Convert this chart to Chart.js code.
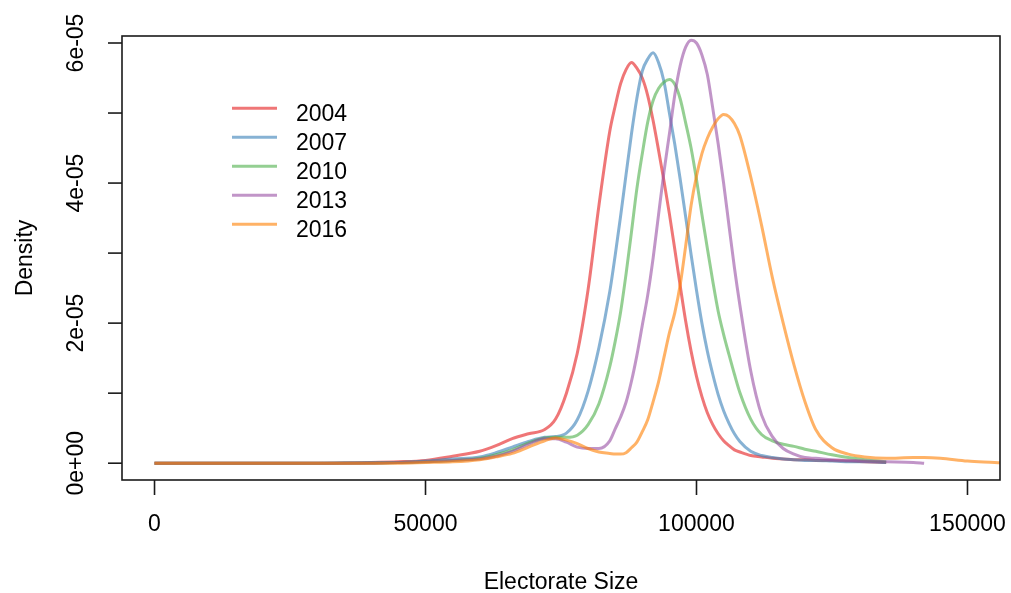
<!DOCTYPE html>
<html>
<head>
<meta charset="utf-8">
<script src="https://cdn.jsdelivr.net/npm/chart.js@4/dist/chart.umd.min.js"></script>
<style>
  html, body { margin: 0; padding: 0; background: #ffffff; }
  canvas { display: block; }
</style>
</head>
<body>
<canvas id="density" width="1011" height="593"></canvas>
<script>
// Electorate size at which each density estimate is sampled
const electorate = [0, 10000, 20000, 30000, 40000, 45000, 50000, 55000, 60000,
  63000, 66000, 69000, 72000, 74000, 76000, 78000, 80000, 82000,
  84000, 85000, 86000, 87000, 88000, 89000, 90000, 91000, 92000, 93000, 94000, 95000,
  96000, 97000, 98000, 99000, 100000, 101000, 102000, 103000, 104000, 105000, 106000,
  107000, 108000,
  110000, 112000, 114000, 116000, 118000, 120000, 122000, 125000, 128000, 131000,
  135000, 140000, 142000, 145000, 150000, 155000, 156000];

const years = ['2004', '2007', '2010', '2013', '2016'];

// Kernel density of electorate size, in units of 1e-5
const d2004 = [0, 0, 0, 0, 0.01, 0.02, 0.04, 0.10, 0.17,
  0.25, 0.35, 0.42, 0.48, 0.63, 1.00, 1.57, 2.48, 3.68,
  4.74, 5.10, 5.42, 5.62, 5.72, 5.64, 5.50, 5.25, 4.89, 4.47, 4.03, 3.56,
  3.05, 2.53, 2.03, 1.60, 1.24, 0.95, 0.72, 0.55, 0.42, 0.32, 0.25,
  0.19, 0.16,
  0.11, 0.09, 0.07, 0.06, 0.05, 0.05, 0.04, 0.04, 0.03, 0.02,
  0.01, null, null, null, null, null, null];
const d2007 = [0, 0, 0, 0, 0.01, 0.01, 0.03, 0.06, 0.09,
  0.15, 0.23, 0.31, 0.37, 0.38, 0.43, 0.62, 1.03, 1.65,
  2.45, 2.97, 3.53, 4.12, 4.70, 5.21, 5.60, 5.77, 5.86, 5.72, 5.45, 5.00,
  4.55, 4.05, 3.52, 2.98, 2.47, 2.00, 1.60, 1.27, 0.98, 0.75, 0.57,
  0.42, 0.31,
  0.17, 0.11, 0.08, 0.06, 0.05, 0.04, 0.04, 0.03, 0.02, 0.02,
  0.01, null, null, null, null, null, null];
const d2010 = [0, 0, 0, 0, 0, 0.01, 0.02, 0.04, 0.07,
  0.12, 0.19, 0.29, 0.36, 0.37, 0.37, 0.40, 0.55, 0.85,
  1.38, 1.74, 2.16, 2.70, 3.30, 3.92, 4.42, 4.87, 5.18, 5.35, 5.44, 5.48,
  5.41, 5.20, 4.86, 4.50, 4.05, 3.55, 3.07, 2.60, 2.17, 1.84, 1.55,
  1.27, 1.01,
  0.63, 0.41, 0.32, 0.27, 0.24, 0.20, 0.17, 0.12, 0.08, 0.05,
  0.02, null, null, null, null, null, null];
const d2013 = [0, 0, 0, 0, 0, 0.01, 0.02, 0.04, 0.06,
  0.10, 0.17, 0.27, 0.35, 0.35, 0.30, 0.23, 0.21, 0.21,
  0.32, 0.49, 0.66, 0.87, 1.17, 1.54, 1.97, 2.40, 2.93, 3.55, 4.16, 4.70,
  5.26, 5.68, 5.94, 6.04, 6.00, 5.83, 5.55, 5.07, 4.56, 4.00, 3.39,
  2.79, 2.26,
  1.32, 0.69, 0.38, 0.21, 0.13, 0.08, 0.07, 0.05, 0.04, 0.03,
  0.02, 0.01, 0, null, null, null, null];
const d2016 = [0, 0, 0, 0, 0, 0, 0.01, 0.02, 0.05,
  0.09, 0.14, 0.23, 0.32, 0.36, 0.33, 0.28, 0.21, 0.16,
  0.14, 0.13, 0.13, 0.15, 0.22, 0.30, 0.45, 0.62, 0.88, 1.16, 1.51, 1.86,
  2.15, 2.55, 3.10, 3.68, 4.10, 4.42, 4.64, 4.80, 4.92, 4.98, 4.95,
  4.85, 4.68,
  4.09, 3.40, 2.65, 2.00, 1.40, 0.88, 0.48, 0.22, 0.13, 0.09,
  0.07, 0.08, 0.08, 0.07, 0.03, 0.01, 0.005];

const UNIT = 1e-5;

// Axis ticks
const xTicks = [0, 50000, 100000, 150000];
const xTickLabels = ['0', '50000', '100000', '150000'];
const yTicks = [0, 1, 2, 3, 4, 5, 6];
const yTickLabels = ['0e+00', '', '2e-05', '', '4e-05', '', '6e-05'];

const xTitle = 'Electorate Size';
const yTitle = 'Density';

// Set1 palette, half transparent
const lineColors = ['rgba(228,26,28,0.6)', 'rgba(55,126,184,0.6)', 'rgba(77,175,74,0.6)',
  'rgba(152,78,163,0.6)', 'rgba(255,127,0,0.6)'];

const series = [d2004, d2007, d2010, d2013, d2016];

const FONT = '23px "Liberation Sans", Arial, Helvetica, sans-serif';

const datasets = series.map((vals, i) => ({
  label: years[i],
  data: electorate.map((e, j) => ({ x: e, y: vals[j] === null ? null : vals[j] * UNIT })),
  borderColor: lineColors[i],
  backgroundColor: lineColors[i],
  borderWidth: 3,
  pointRadius: 0,
  pointHoverRadius: 0,
  fill: false,
  cubicInterpolationMode: 'monotone',
  spanGaps: false,
  order: series.length - i
}));

// Frame, tick marks, tick labels, titles and legend in base-graphics style
const basePlot = {
  id: 'basePlot',
  afterDraw(chart) {
    const { ctx, chartArea: a, scales } = chart;
    const xs = scales.x, ys = scales.y;
    ctx.save();
    ctx.strokeStyle = '#1a1a1a';
    ctx.fillStyle = '#000000';
    ctx.lineWidth = 1.6;

    // plot box
    ctx.strokeRect(a.left, a.top, a.right - a.left, a.bottom - a.top);

    // x axis ticks and labels
    ctx.font = FONT;
    ctx.textAlign = 'center';
    ctx.textBaseline = 'alphabetic';
    xTicks.forEach((v, i) => {
      const px = xs.getPixelForValue(v);
      ctx.beginPath();
      ctx.moveTo(px, a.bottom);
      ctx.lineTo(px, a.bottom + 15);
      ctx.stroke();
      ctx.fillText(xTickLabels[i], px, a.bottom + 51);
    });

    // y axis ticks and labels (rotated)
    yTicks.forEach((v, i) => {
      const py = ys.getPixelForValue(v * UNIT);
      ctx.beginPath();
      ctx.moveTo(a.left - 14, py);
      ctx.lineTo(a.left, py);
      ctx.stroke();
      if (yTickLabels[i]) {
        ctx.save();
        ctx.translate(a.left - 39, py);
        ctx.rotate(-Math.PI / 2);
        ctx.fillText(yTickLabels[i], 0, 0);
        ctx.restore();
      }
    });

    // axis titles
    ctx.fillText(xTitle, (a.left + a.right) / 2, 589);
    ctx.save();
    ctx.translate(32, (a.top + a.bottom) / 2);
    ctx.rotate(-Math.PI / 2);
    ctx.fillText(yTitle, 0, 0);
    ctx.restore();

    // legend
    ctx.textAlign = 'left';
    chart.data.datasets.forEach((ds, i) => {
      const ly = 108.3 + i * 29;
      ctx.strokeStyle = ds.borderColor;
      ctx.lineWidth = 3;
      ctx.beginPath();
      ctx.moveTo(232, ly);
      ctx.lineTo(277, ly);
      ctx.stroke();
      ctx.fillStyle = '#000000';
      ctx.fillText(ds.label, 296, ly + 12.4);
    });
    ctx.restore();
  }
};

new Chart(document.getElementById('density'), {
  type: 'line',
  data: { datasets },
  options: {
    responsive: false,
    animation: false,
    devicePixelRatio: 1,
    layout: { padding: { left: 122, top: 36, right: 11, bottom: 113 } },
    plugins: {
      legend: { display: false },
      tooltip: { enabled: false }
    },
    scales: {
      x: { type: 'linear', min: -6000, max: 156000, display: false },
      y: { type: 'linear', min: -0.24 * UNIT, max: 6.1 * UNIT, display: false }
    }
  },
  plugins: [basePlot]
});
</script>
</body>
</html>
